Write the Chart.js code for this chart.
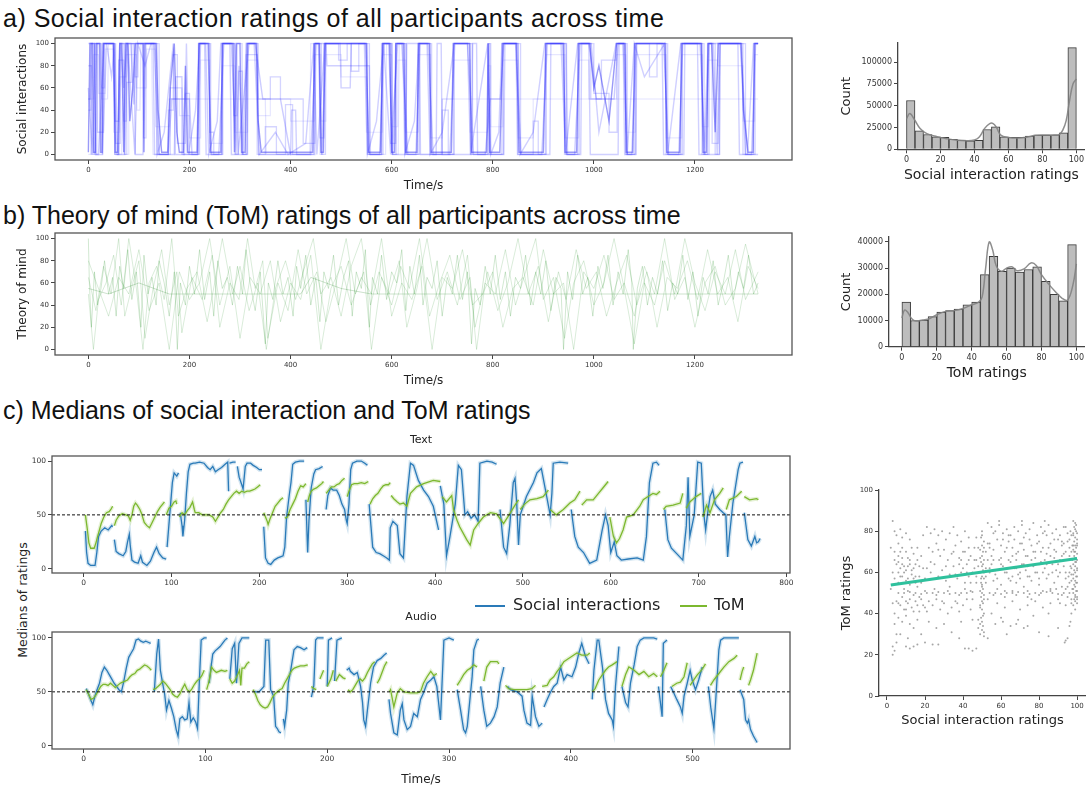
<!DOCTYPE html>
<html><head><meta charset="utf-8">
<script src="https://cdn.jsdelivr.net/npm/chart.js@4/dist/chart.umd.min.js"></script>
<style>
body{margin:0;background:#fff;width:1086px;height:789px;overflow:hidden;position:relative;font-family:"DejaVu Sans",sans-serif;}
.ttl{position:absolute;font-family:"Liberation Sans",Arial,sans-serif;font-size:25px;line-height:28px;color:#111;white-space:nowrap;}
.lg{position:absolute;font-size:16px;line-height:20px;color:#222;white-space:nowrap;}
.ln{position:absolute;height:0;border-top:2px solid;}
.yl{position:absolute;font-size:12.5px;color:#222;white-space:nowrap;transform:translate(-50%,-50%) rotate(-90deg);}
</style></head><body>
<div class="ttl" style="left:3px;top:4px;letter-spacing:0.5px">a) Social interaction ratings of all participants across time</div>
<div class="ttl" style="left:3px;top:201px">b) Theory of mind (ToM) ratings of all participants across time</div>
<div class="ttl" style="left:3px;top:396px">c) Medians of social interaction and ToM ratings</div>
<div class="yl" style="left:22px;top:600px">Medians of ratings</div>
<script>
// ---------------- DATA ----------------
// Panel a: individual social-interaction rating traces (time s, rating) flat pairs
const socialTrace1 = [0,2,3,100,8,100,10,2,14,2,16,100,22,100,24,2,27,2,29,100,50,100,53,2,58,2,62,100,66,100,70,2,74,100,78,100,82,30,88,60,93,100,108,100,110,2,112,100,134,100,138,40,145,2,157,2,162,60,170,100,175,20,180,2,188,2,192,80,196,2,215,2,219,100,238,100,241,2,262,2,265,100,286,100,289,2,293,100,300,100,303,2,310,2,314,100,332,100,336,30,342,2,444,2,447,100,457,100,460,2,465,2,468,100,550,100,554,2,578,2,582,100,596,100,600,2,606,2,608,100,624,100,628,2,650,2,653,100,675,100,678,2,718,2,722,100,754,100,758,2,788,2,791,100,794,2,814,2,820,100,847,100,852,2,900,2,905,100,940,100,943,2,966,2,970,100,992,100,1000,60,1010,80,1030,30,1045,100,1061,100,1064,2,1077,2,1081,100,1141,100,1144,2,1170,2,1174,100,1213,100,1216,2,1223,2,1226,100,1233,100,1240,20,1246,100,1292,100,1296,40,1305,2,1315,2,1318,100,1325,100];
const socialTrace2 = [0,50,4,50,6,100,12,100,15,0,20,0,31,100,48,100,55,0,60,0,64,100,70,60,76,100,84,100,90,45,96,100,130,100,140,0,158,0,165,50,200,50,205,0,216,0,222,100,236,100,244,0,258,0,268,100,283,100,292,0,298,80,306,0,312,100,330,100,345,50,380,50,400,0,440,0,450,100,455,100,462,0,470,100,548,100,556,0,576,0,585,100,594,100,602,0,610,100,620,100,632,0,648,0,656,100,672,100,682,0,715,0,725,100,750,100,762,0,785,0,795,50,815,50,822,100,845,100,856,0,897,0,908,100,938,100,946,0,962,0,973,100,990,100,1005,50,1040,50,1048,100,1058,100,1066,0,1075,0,1084,100,1138,100,1148,0,1168,0,1176,100,1210,100,1220,0,1228,100,1290,100,1300,0,1312,0,1320,100,1325,100];
const socialTrace4 = [0,0,5,0,6,100,10,100,11,0,17,0,18,100,24,100,26,50,38,50,40,100,50,100,52,0,66,0,68,100,71,100,72,0,79,0,80,100,94,100,96,40,102,40,104,100,125,100,128,0,158,0,160,50,350,50,352,0,438,0,440,100,456,100,458,0,464,0,466,100,550,100,552,0,588,0,590,100,598,100,600,0,613,0,615,100,628,100,630,0,698,0,700,50,1325,50];
const socialTrace5 = [0,60,8,0,14,100,24,100,28,0,36,100,46,70,52,100,58,0,72,0,78,100,92,0,98,100,112,80,124,100,132,100,136,0,150,20,168,100,172,0,190,0,194,100,198,0,212,40,220,100,232,100,238,0,255,30,262,100,290,100,296,0,318,100,328,100,338,0,370,20,395,0,430,10,446,100,452,0,468,100,498,100,500,60,518,60,520,100,546,100,552,0,570,30,584,100,598,0,612,100,622,100,626,0,645,30,654,100,670,100,676,0,700,20,724,100,750,100,756,0,790,100,796,0,812,20,818,100,850,100,854,0,880,20,903,100,935,100,944,0,968,100,995,100,1010,20,1044,100,1062,100,1066,0,1080,100,1100,70,1140,100,1146,0,1172,100,1212,100,1218,0,1226,100,1236,100,1244,0,1250,100,1290,100,1304,0,1316,100,1325,100];
const socialTrace6 = [0,100,12,100,14,0,28,0,30,100,50,100,53,30,60,30,62,100,90,100,93,0,108,0,110,100,128,100,131,0,170,0,173,70,185,70,188,0,216,0,218,100,230,100,233,0,264,0,266,100,280,100,283,0,314,0,316,100,334,100,337,0,400,0,402,40,410,40,412,0,448,0,450,100,470,100,472,80,556,80,558,0,580,0,582,100,600,100,602,0,628,0,630,100,655,100,657,0,688,0,690,100,698,100,700,0,758,0,760,100,768,100,770,0,822,0,824,100,846,100,849,0,913,0,915,100,945,100,948,0,974,0,976,100,990,100,993,0,1048,0,1050,100,1058,100,1061,0,1083,0,1085,100,1135,100,1138,0,1178,0,1180,100,1205,100,1208,0,1248,0,1250,100,1285,100,1288,0,1325,0];
// step-held traces: rating v held from time t until the next change
const socialStep1 = [0,80,6,0,12,100,26,60,32,100,52,0,60,85,70,30,75,100,92,70,98,100,136,0,158,40,168,90,176,10,192,55,200,0,218,100,240,20,248,0,264,100,288,35,294,100,304,0,312,90,334,0,350,25,372,0,390,45,404,0,446,100,458,15,466,100,520,75,535,100,552,0,580,100,598,10,608,100,626,0,652,100,676,0,700,40,712,0,722,100,756,0,790,100,794,0,818,100,850,0,880,30,890,0,904,100,942,0,968,100,994,50,1015,85,1044,100,1063,0,1080,100,1110,70,1125,100,1143,0,1172,100,1214,0,1225,100,1234,10,1246,100,1295,0,1316,100,1325,100];
const socialStep2 = [0,40,5,100,18,20,30,100,54,10,63,100,71,0,76,65,86,100,109,15,114,100,140,0,162,60,185,0,220,100,242,0,266,100,290,0,297,75,305,0,315,100,336,50,360,70,380,50,425,10,448,100,461,0,469,100,495,85,512,100,556,0,583,100,601,0,609,100,629,0,655,100,679,0,724,100,760,0,792,100,796,0,821,100,855,0,906,100,946,0,971,100,1000,55,1030,20,1046,100,1066,0,1083,100,1146,0,1175,100,1218,0,1228,100,1240,0,1249,100,1300,0,1319,100,1325,100];
const socialStep3 = [0,50,10,90,20,55,33,95,50,20,62,70,75,90,95,60,115,95,133,25,160,50,180,35,200,15,222,85,240,10,265,80,290,20,315,85,335,35,360,50,400,30,447,90,460,30,470,90,500,70,550,20,582,90,600,25,612,85,628,20,653,90,677,15,700,50,722,85,755,20,790,80,796,25,820,85,850,15,880,50,905,90,943,15,970,85,990,50,1045,90,1063,20,1082,90,1143,15,1174,90,1215,25,1226,85,1245,80,1295,30,1318,90,1325,90];

// Panel b: individual ToM rating traces
const tomTrace1 = [0,100,2,60,6,20,12,70,18,40,25,55,32,80,40,50,48,65,55,30,62,75,70,55,78,90,86,45,95,70,104,20,110,85,118,50,126,65,134,40,140,80,150,60,160,30,170,70,176,0,182,60,192,40,200,75,210,50,220,90,230,45,240,70,248,30,256,80,265,55,275,65,285,40,295,75,305,50,312,90,320,60,330,35,340,70,350,5,356,60,365,45,375,80,385,50,395,65,405,30,412,75,420,55,430,85,440,40,450,65,458,25,466,70,475,55,485,85,495,40,505,65,515,80,522,30,530,70,540,55,548,90,556,20,562,65,572,50,580,85,590,45,600,70,610,60,620,90,628,35,636,75,645,50,655,85,662,40,670,65,680,55,690,80,700,30,710,65,720,50,730,85,740,45,750,70,758,5,765,55,775,40,785,75,795,50,805,85,815,45,825,70,835,30,845,65,855,55,865,85,875,40,885,70,895,50,905,80,915,35,925,65,935,55,940,0,948,70,958,45,968,85,978,50,988,65,998,30,1008,75,1018,55,1028,85,1038,40,1048,70,1058,50,1068,90,1075,60,1078,0,1086,55,1096,75,1106,40,1116,65,1126,50,1136,80,1146,35,1156,60,1166,50,1176,85,1186,45,1196,70,1206,30,1216,65,1226,50,1236,80,1246,40,1256,60,1266,85,1276,45,1286,70,1296,55,1306,85,1316,50,1325,60];
const tomTrace2 = [0,50,10,0,20,45,35,60,50,85,65,40,80,100,95,55,108,0,120,60,135,75,150,45,165,100,178,30,195,55,215,70,235,25,250,60,265,100,285,50,300,75,318,35,335,60,352,0,370,55,390,80,410,45,425,70,445,100,460,50,480,65,500,30,520,75,540,100,558,40,575,70,595,50,615,80,630,20,650,55,670,100,690,45,710,70,730,40,750,85,768,0,785,60,805,50,825,90,845,40,865,70,885,100,900,45,920,65,942,10,960,60,980,80,1000,40,1020,60,1040,100,1060,55,1080,5,1100,60,1120,40,1140,80,1160,50,1180,100,1200,60,1220,35,1240,70,1260,50,1280,90,1300,45,1325,70];
const tomTrace3 = [0,65,15,35,30,75,45,50,60,100,72,30,88,60,100,80,112,10,128,55,145,90,160,40,175,70,185,15,205,65,225,45,245,85,260,20,280,60,298,45,315,100,330,55,345,80,355,10,375,60,395,35,415,90,432,50,452,70,470,25,490,60,510,100,528,50,545,70,560,0,580,65,600,40,618,75,635,55,655,100,675,30,695,60,715,85,735,45,755,65,765,20,790,70,810,35,830,60,850,100,870,50,890,75,910,25,930,70,945,45,965,90,985,55,1005,70,1025,30,1045,60,1065,85,1085,40,1105,70,1125,20,1145,65,1165,55,1185,80,1205,45,1225,90,1245,50,1265,65,1285,25,1305,75,1325,55];
const tomTrace4 = [0,80,20,55,40,30,60,65,80,50,100,90,120,35,140,60,160,0,180,70,200,45,220,60,240,100,260,40,280,75,300,10,320,65,340,50,360,80,380,25,400,60,420,45,440,85,460,0,480,55,500,75,520,40,540,65,560,50,580,100,600,30,620,60,640,45,660,75,680,0,700,65,720,55,740,90,760,40,780,50,800,70,820,20,840,55,860,65,880,40,900,90,920,50,940,60,960,0,980,70,1000,55,1020,85,1040,45,1060,60,1080,30,1100,75,1120,50,1140,100,1160,45,1180,65,1200,20,1220,60,1240,75,1260,40,1280,55,1300,95,1325,50];
const tomTrace5 = [0,55,40,50,100,60,160,50,420,50,440,65,500,55,560,50,760,50,1325,50];

// Panel a/b histograms (bins of width 5 on 0..100)
const histBinCenters = [2.5,7.5,12.5,17.5,22.5,27.5,32.5,37.5,42.5,47.5,52.5,57.5,62.5,67.5,72.5,77.5,82.5,87.5,92.5,97.5];
const socialHistCounts = [56000,21200,17000,14400,13600,11400,10600,9800,10200,22700,25800,14400,13600,13600,15200,16300,16300,16700,18900,116700];
const socialKde = [0,35200,2,41000,5,33000,8,24000,12,18000,18,14400,23,12500,29,10600,35,9800,40,10600,43,14400,46,24000,49,29500,51,29500,53,25000,55.5,16300,60,13600,66,12900,72,14400,76,16000,82,16300,87,16300,90,17000,92,22000,94,33000,96,56000,98,75000,100,80700];
const tomHistCounts = [17000,10000,10200,11500,13200,13800,14400,16000,17000,27500,34500,28800,30000,28500,29500,30500,25000,20000,17500,39000];
const tomKde = [0,11000,1.5,14000,3.5,13000,5.5,10800,8,9800,12,10200,16,10800,20,12200,25,13500,30,13800,35,14600,40,16000,44,17000,46,19000,48,30000,50,40000,52,37000,54,31000,57,28800,60,30000,63,30500,66,29000,70,29700,74,32000,77,31000,80,27500,84,24000,88,21000,92,18400,95,17800,98,23500,100,31600];

// Panel c: medians (segments of [time, value] pairs)
const textSocial = [
 [2,35,3.4,15,5,5,8,3,13,3,15,15,17,30,20,35,24,38,28,36,32,40,33,39],
 [35,27,37,16,40,14,45,12,48,16,50,25,52,32,53,22,55,8,58,6,62,5,65,12,67,6,72,3,76,7,80,15,83,20,86,14,90,10,94,9],
 [95,20,97,40,99,60,101,80,103,89,106,86,108,89],
 [110,52,112,40,113,30,115,45,117,70,119,90,121,97,125,98,127,98,132,99,137,98,141,94,144,92,147,95,150,90,153,92,157,94,161,97,164,99,165,72],
 [166,98,170,99,173,99],
 [175,95,177,85,180,78,181.5,74,184,95,186,98,190,98,193,96,197,94,200,92,203,92],
 [205,39,207,10,210,5,213,4,217,8,221,10,224,11,227,12,229,20,231,48,234,68,236,80,238,97,241,99,246,100,251,100],
 [253,64,255,15,256.5,45,259,75,262,88,264,92,268,93,272,95],
 [276,55,278,68,281,75,284,73,288,73,291,68,294,60,297,55,299,45,300,42,302,60,304,92,306,98,311,100,316,100,320,98,323,96],
 [325,60,327,40,329,20,333,15,337,14,341,12,345,10,348,8,349,38,352,44,357,40,360,14,364,10,368,67,372,98,375.5,96,381,82,387,73,392.5,67,398,58,404,36],
 [406,77,410,60,413,12,417,30,423,60,426.5,96,430,92,434,50,437,53,441,47,445,50,449,44,451,98,459,100,465,99,470,97],
 [474,55,478,20,481.5,14,485,40,489,80,491,84,493,60,495,22,497,50,504,67,512,80,516,89,521,93,525,76,531,50,533,70,534.5,98,542,99,551.5,98],
 [555,55,559,30,563,20,569,15,576,5,584,8,590,35,594,50,597,40,600,15,604,25,607,12,612,8,620,9,630,10,637,8,640.6,30,644,80,648,98,652,99,655,96],
 [661.5,55,665,27,669,19,675,14,682,8,686,40,688,85,690,30,695,50,699,99,703,98,706,50,708,36,710,50,713,67,716,73,719,60,724,55,728,52,731,50,733,11,735,30,739,61,745,92,747,98,750.5,99],
 [752,52,756,27,760,21,764,30,766,24,768,25,770,28]
];
const textToM = [
 [2,50,4,38,6,24,8,19,12,19,14,24,17,33,20,42,23,48,26,52,29,53,31,55,33,58],
 [35,40,37,45,40,49,44,51,48,50,51,49,53,45,55,50,57,58,59,61,61,59,64,55,66,51,69,43,72,40,75,38,78,43,81,48,84,53,87,57,90,60,92,62],
 [94,50,97,56,100,58,103,62,105,63,106,60],
 [109,48,112,52,115,50,118,54,121,57,124,62,126,55,127,52,131,52,135,50,139,50,143,50,147,48,150,44,153,48,156,52,159,55,162,60,165,64,168,67,171,70,174,72,177,70,180,72,183,71,186,72,189,72,192,73,195,74,198,76,201,78],
 [205,52,207,48,209,44,210,41,212,46,215,52,218,58,221,61,224,64,227,66],
 [229,47,232,48,235,55,238,60,241,65,244,72,247,77,250,76,253,79],
 [255,62,257,68,259,72,262,74,265,75,268,77,271,79,273,81],
 [276,70,279,73,282,76,285,76,288,78,291,79,294,82,297,84],
 [300,67,302,72,305,78,308,79,312,79,316,80,320,79,324,81],
 [326,60,329,65,332,68,335,70,338,74,341,77,344,78,347,78,349,80],
 [350,68,353,65,357,62,360,60,364,61,368,58,372,70,379,76,387,79,398,82,406,81],
 [408,67,413,62,419,68,421,55,425,45,428,39,436,27,440,22,444,36,449,42,455,48,463,52,470,51,478,42,485,51,491,59,495,64],
 [497,55,502,60,508,64,516,65,523,67,529,73],
 [531,55,538,50,546,55,553.5,61,559,64,565,72],
 [567,59,572.5,64,580,64,586,70,591,75,597,81],
 [599,48,603,30,606.5,24,610,28,614,36,618,48,625.5,50,633,58,637,64,642.5,67,648,70,652,69,656,72],
 [660,55,663,58,671,59,679,61,682,70],
 [686,56,690,62,697,67,703,70],
 [705,48,709,59,713,52,718,64,724,70,728,75],
 [731.5,55,735,64,743,67,749,72],
 [752,67,758,64,766,65,768,64]
];
const audioSocial = [
 [2,53,4,48,6,42,7.5,38,9,45,11,52,13,58,15,68,17,73,19,70,21,66,23,62,25,58,27,55,29,52,31,50,33,60,35,72,37,82,39,86,41,90,43,98,45,99,47,97,49,96,51,97,53,96,55,95],
 [58,50,60,85,61.5,99,63,70,64.5,60,66.5,48,68,33,70,42,72,35,74,27,76,15,77.5,9,79,25,81,27,83,24,85,25,86.5,40,88,22,90,26,92,22,93.5,16,95,60,96.5,98,99,100,101,100],
 [103,58,104.5,72,106,85,108,88,110,90,112,92,114,95,116,98,118,100],
 [120,62,122,90,124,95,125.5,58,127.5,95,130,100,136,100],
 [140,50,144,50,148,55,149.5,98,152,98,153.5,52,156,46,157.6,18,159,16,160.4,13,162,12],
 [164,25,165,18,166.7,33,168,58,170,70,172.7,89,175.4,92,178,91,181,89,183.6,91],
 [187,45,189,56,190.5,98,192,100,197,100],
 [200,55,201,98,204,100],
 [206,60,208,98,212,100],
 [216,70,218,72,219,69,222,66,224.7,68,227.4,55,229,40,230,24,231.5,18,233,33,235.6,58,238,73,241,79,244,81,246.6,84,248.8,86],
 [250.7,43,252,30,254.7,12,257.5,10,260,33,261.6,39,263,24,265.7,15,268.4,18,271,30,274,27,276.6,43,279,49,282,58,285,61,287.6,64,290,55,293,24,295.8,98,300,100,304,98],
 [306.7,52,309.5,33,312,15,313.6,12,315,18,317.7,49,319,64,320.4,89,323,98,324.5,99],
 [326,55,328.6,33,331,18,334,21,337,27,339.6,36,342,58,345,73],
 [348,55,350.5,52,356,50,360,46,361.5,33,364,21,367,19,368.3,46,371,27,373.8,18,376.5,21],
 [378,36,380.6,43,383,49,386,55,388.8,58,391.6,73,394.3,61,397,66,401,64,404,73,406.6,86,409,95,412,83,415,76],
 [417.6,43,419,70,421.7,98,423,98,426,73,428.5,43,431,30,434,24,435,18,436.7,55,439.5,92],
 [442,55,445,40,447,36,449,58,452,75,454.5,92,457,98,460,100,468,100,471,99],
 [472,55,475,27,476,95,479,98],
 [482,55,484.6,49,487,43,490,36,491.5,30,493,46,495.6,58,498,70,499.7,61,502.4,52,505,61,508,73],
 [513,55,515,35,517.5,16,519,42,521.6,89,523,98,525.7,100,532,100,538,100],
 [539,52,542,43,543.5,24,545,21,546,24,547.6,15,550,9,553,3]
];
const audioToM = [
 [2,52,4,48,6,43,8,44,10,47,12,51,14,55,16,57,18,57,20,56,22,58,24,56,26,54,28,56,30,58,32,59,34,60,36,61,38,64,40,66,42,67,44,70,46,71,48,73,50,75,52,74,54,72,55.5,70],
 [57,52,59,53,61,55,63,57,65,60,67,58,69,55,71,52,73,48,75,46,77,45,79,48,81,53,83,57,85,52,87,50,89,53,91,57,93,60,95,62,97,65,99,70],
 [101,52,103,60,105,73,107,70,109,68,111,69,113,70,116,69,118,70],
 [120,62,122,58,124,60,126,65,128,70,129,56,130,72,132,72,134,76,136,78],
 [139,52,141,48,143,42,145,38,147,36,149,35,151,36,153,40,155,45,157,48,159,50,161,52,163,53,165,58,167,62,169,66,171,70,173,72,175,73,178,74,181,74,184,75],
 [187,55,189,53,191,52],
 [194,62,197,70],
 [200,55,203,62,205,70],
 [207,60,210,66,213,63,215,62],
 [217,52,219,50,221,52,223,56,225,60,227,62,229,60,231,63,233,68,235,72,237,76,239,78],
 [241,58,243,62,245,68,247,74,249,78],
 [251,50,252,52,254.7,36,257.5,49,260,53,263,50,268.4,49,274,49,276.6,50,279,58,282,64,285,69,287.6,65,290,67],
 [306.7,56,309.5,61,312,66,315,70,317.7,72,320.4,75,323,73],
 [328.6,60,331,73,334,78,339.6,78,341,76],
 [346.4,56,349,53,353,52,358.7,52,364,52,368,53,371,56],
 [376.5,55,380.6,56,383,61,386,64,388.8,69,391.6,73,394.3,78,397,80,401,83,405,86,409,84,413.5,84,415.6,86],
 [417.6,50,420,53,423,61,426,66,428.5,70,431,73,434,75,438,78],
 [442,55,445,66,447.7,73,452,70,456,66,460,69,464,64,468,67,471,64],
 [473.7,64,476,69,479,77],
 [483,55,487,58,490,59,493,64,495.6,77],
 [498,56,501,61,504,66,506.5,69,509,73,510.6,76],
 [514.7,56,517.5,61,521.6,67,525.7,73,529.8,78,534,81,536.6,84],
 [539,61,540.7,69,542,73],
 [546,56,547.6,61,550,70,553,86]
];
const medianReference = 50;

// Scatter: social interaction ratings (x) vs ToM ratings (y)
const scatterPoints = [
 99,84,98.5,82,99.5,80,98,79,99,77,100,76,98.5,75,99,73,99.5,72,98,71,99,70,100,69,98.5,68,99,67,97.5,66,99.5,65,98,64,99,63,100,62,98.5,61,99,60,97,59,99.5,58,98,57,99,56,100,55,98.5,54,99,53,97.5,52,99.5,51,98,50,99,49,100,48,98.5,47,99,46,97,45,96,50,96.5,63,97,70,96,76,95,48,95.5,58,97,40,96.5,36,96,34,94,27,93.5,26,95,28,98,44,99,42,100,47,100,51,100,58,100,66,100,73,100,79,99.5,83,98,85,
 50,80,49.5,77,51,75,50,73,49,71,50.5,70,50,68,51,66,49.5,65,50,63,50.5,61,49,60,50,58,51,57,49.5,55,50,54,50.5,52,49,51,50,50,51,49,49.5,48,50,46,50.5,45,49,44,50,42,51,40,49.5,38,50,36,50.5,34,48,33,51,31,49,30,48,37,52,62,52,70,48,72,52,55,
 6,50,9,50,12,50.5,15,50,18,49.5,21,50,24,50,27,50.5,30,50,33,49.5,36,50,39,50,42,50,45,50.5,54,50,57,50,60,49.5,63,50,66,50,69,50.5,72,50,75,49.5,78,50,81,50,84,50.5,87,50,90,49.5,93,50,11,51,14,49,20,51,26,49,32,51,38,49,44,51,56,49,62,51,68,49,74,51,80,49,86,51,92,49,
 3,85,4,80,5,78,7,81,6,74,8,77,10,79,12,76,4,70,6,68,8,72,10,70,12,66,14,69,16,72,18,68,5,64,7,62,9,60,11,63,13,61,15,64,17,58,19,62,4,57,6,55,8,58,10,56,12,54,14,57,16,53,18,55,5,46,7,44,9,42,11,45,13,43,15,46,17,41,19,44,4,40,6,38,8,36,10,39,12,35,14,33,16,37,18,30,3,24,4,22,3,20,5,26,7,30,10,24,12,23,14,24,16,25,11,28,
 21,82,23,79,25,81,27,78,29,80,31,76,33,79,35,82,37,78,39,75,41,80,43,77,22,72,24,70,26,74,28,68,30,71,32,66,34,69,36,73,38,67,40,70,42,64,44,68,21,62,23,60,25,64,27,58,29,61,31,56,33,59,35,63,37,57,39,60,41,55,43,58,22,46,24,44,26,47,28,42,30,45,32,40,34,43,36,46,38,41,40,44,42,47,44,42,22,36,26,33,30,35,34,31,38,28,27,25,24,25,20,26,41,23,43,23,45,22,47,23,39,36,45,37,
 53,84,55,82,57,80,59,83,61,79,63,81,65,78,67,82,69,80,71,83,73,79,75,81,77,84,79,78,81,82,83,80,85,83,87,79,89,81,91,78,93,82,54,74,56,71,58,76,60,73,62,70,64,75,66,72,68,69,70,74,72,71,74,68,76,73,78,70,80,75,82,72,84,69,86,74,88,71,90,76,92,73,94,70,55,64,57,61,59,66,61,63,63,60,65,65,67,62,69,59,71,64,73,61,75,58,77,63,79,60,81,65,83,62,85,59,87,64,89,61,91,66,93,63,56,56,60,54,64,57,68,55,72,53,76,56,80,54,84,57,88,55,92,53,58,45,62,43,66,46,70,42,74,44,78,46,82,43,86,45,90,47,94,44,57,35,61,36,65,34,68,35,72,33,74,34,80,31,85,29,90,33,53,28,55,40,60,38,
 99,81,98,78,100,74,98.5,70,99,65,100,61,98,59,99.5,55,98,52,99,48,100,45,97,62,96,55,97.5,73,96.5,80,95,66,94,60,95,75,93,69,94,52,
 50,78,51,72,49,67,50.5,64,51,60,49.5,57,50,53,51,47,49,43,50.5,39,49,35,50,32,51,29,47,66,53,47,47,55,53,74,
 2,52,3,60,4,66,2,72,3,45,4,35,5,30,6,60,7,70,8,64,9,52,10,46,11,67,13,72,15,58,17,48,19,78,20,57,21,41,23,65,25,52,27,71,29,46,31,63,33,53,35,70,37,45,39,66,41,52,43,72,45,47,46,62,47,77,44,55,
 54,62,56,79,58,57,60,67,62,48,64,78,66,58,68,66,70,57,72,77,74,63,76,47,78,67,80,57,82,79,84,64,86,52,88,67,90,58,92,75,94,57,91,45,85,40,77,39,69,37,63,30,58,52,66,51,74,48,82,51,89,52,71,85,59,85,83,85,
 45,60,46,66,47,58,48,63,52,58,53,66,54,60,55,68,42,60,43,66,41,70,40,62,38,64,36,59,46,72,54,72,56,66,57,59,6,65,7,58,8,67,9,63,10,61,11,57,12,64,13,59,14,62,15,55,16,66,17,63,6,45,8,48,10,42,12,47,14,41,16,44,18,47,20,43,
 97,78,98,73,96,68,97,56,96,60,95,53,97,47,96,72,95,79,94,82,93,74,92,68,91,60,90,64,89,70,88,76,87,60,86,68,85,72,84,78,83,66,82,60,81,70,80,64,79,74,78,60,77,70,76,66,75,76,74,58,73,68,72,64,71,74,70,60,69,70,68,62,67,76,66,68,65,56,64,66,63,72,62,60,61,76,60,64
];
const regressionLine = [2,53.9,100,66.8];

// Axis ticks
const timeTicksAB = [0,200,400,600,800,1000,1200];
const ratingTicks = [0,20,40,60,80,100];
const textTimeTicks = [0,100,200,300,400,500,600,700,800];
const audioTimeTicks = [0,100,200,300,400,500];
const medianTicks = [0,50,100];
const socialCountTicks = [0,25000,50000,75000,100000];
const tomCountTicks = [0,10000,20000,30000,40000];

// ---------------- HELPERS ----------------
Chart.defaults.font.family = 'DejaVu Sans';
Chart.defaults.color = '#333';
Chart.defaults.animation = false;
Chart.defaults.events = [];
Chart.defaults.plugins.legend.display = false;
Chart.defaults.plugins.tooltip.enabled = false;

function pairs(flat){ const o=[]; for(let i=0;i<flat.length;i+=2) o.push({x:flat[i], y:flat[i+1]}); return o; }
function segs(list){ const o=[]; list.forEach((s,k)=>{ if(k) o.push({x:s[0], y:null}); o.push(...pairs(s)); }); return o; }

const boxPlugin = {id:'box', afterDatasetsDraw(chart, args, opts){
  if(!opts || !opts.on) return;
  const a=chart.chartArea, ctx=chart.ctx; ctx.save(); ctx.strokeStyle='#555'; ctx.lineWidth=1.3;
  ctx.strokeRect(a.left, a.top, a.right-a.left, a.bottom-a.top); ctx.restore(); }};
Chart.register(boxPlugin);

function axis(o){
  const s = { type:'linear', min:o.min, max:o.max, offset:false,
    afterBuildTicks: sc => { sc.ticks = o.ticks.map(v=>({value:v})); },
    grid:{display:true, drawOnChartArea:false, drawTicks:true, tickLength:4, color:'#444', lineWidth:1, offset:false},
    border:{display:!!o.border, color:'#444', width:1.3},
    ticks:{font:{size:o.fs}, color:'#333', padding:2, maxRotation:0, autoSkip:false, callback:v=>String(v)},
    title: o.title ? {display:true, text:o.title, font:{size:o.tfs}, color:'#222', padding:o.tpad} : {display:false}
  };
  if(o.w!==undefined) s.afterFit = sc => { sc.width = o.w; };
  if(o.h!==undefined) s.afterFit = sc => { sc.height = o.h; };
  return s;
}
function mk(pos, cfg){
  const c=document.createElement('canvas'); c.width=pos.w; c.height=pos.h;
  c.style.cssText=`position:absolute;left:${pos.l}px;top:${pos.t}px;width:${pos.w}px;height:${pos.h}px`;
  document.body.appendChild(c);
  cfg.options.responsive=false; cfg.options.maintainAspectRatio=false;
  cfg.options.layout = Object.assign({autoPadding:false}, cfg.options.layout||{});
  return new Chart(c, cfg);
}
function traceDs(flat, color, w, stepped){ return {data:pairs(flat), borderColor:color, borderWidth:w, pointRadius:0, tension:0, fill:false, stepped:!!stepped}; }

// ---------------- PANEL a (lines) ----------------
mk({l:0,t:30,w:800,h:163}, {type:'line', data:{datasets:[
    traceDs(socialStep3,'rgba(60,60,255,0.13)',1.2,true),
    traceDs(socialTrace4,'rgba(60,60,255,0.14)',1.2),
    traceDs(socialStep2,'rgba(40,40,255,0.2)',1.3,true),
    traceDs(socialStep1,'rgba(40,40,255,0.2)',1.3,true),
    traceDs(socialTrace2,'rgba(40,40,255,0.24)',1.4),
    traceDs(socialTrace5,'rgba(40,40,255,0.22)',1.4),
    traceDs(socialTrace6,'rgba(40,40,255,0.22)',1.4),
    traceDs(socialTrace1,'rgba(30,30,240,0.45)',1.4)
  ]},
  options:{layout:{padding:{top:8,right:8,left:0,bottom:0}},
    plugins:{box:{on:true}},
    scales:{
      x:axis({min:-66,max:1392,ticks:timeTicksAB,fs:7,h:33,title:'Time/s',tfs:12,tpad:{top:0,bottom:0}}),
      y:axis({min:-5,max:105,ticks:ratingTicks,fs:7,w:55,title:'Social interactions',tfs:12,tpad:{top:16,bottom:0}})
    }}});

// ---------------- PANEL b (lines) ----------------
mk({l:0,t:225,w:800,h:163}, {type:'line', data:{datasets:[
    traceDs(tomTrace1,'rgba(0,128,0,0.18)',1),
    traceDs(tomTrace2,'rgba(0,128,0,0.15)',1),
    traceDs(tomTrace3,'rgba(0,128,0,0.15)',1),
    traceDs(tomTrace4,'rgba(0,128,0,0.15)',1),
    traceDs(tomTrace5,'rgba(0,110,0,0.2)',1)
  ]},
  options:{layout:{padding:{top:8,right:8,left:0,bottom:0}},
    plugins:{box:{on:true}},
    scales:{
      x:axis({min:-66,max:1392,ticks:timeTicksAB,fs:7,h:33,title:'Time/s',tfs:12,tpad:{top:0,bottom:0}}),
      y:axis({min:-5,max:105,ticks:ratingTicks,fs:7,w:55,title:'Theory of mind',tfs:12,tpad:{top:16,bottom:0}})
    }}});

// ---------------- Histograms ----------------
function histCfg(counts, kde, xr, yr, yticks, xtitle, pad, yw, xh, xtpad){
  return {type:'bar', data:{datasets:[
      {type:'line', data:pairs(kde), borderColor:'rgba(130,130,130,0.9)', borderWidth:1.5, pointRadius:0, tension:0.4, order:1},
      {type:'bar', data:histBinCenters.map((c,i)=>({x:c,y:counts[i]})), backgroundColor:'#bdbdbd', borderColor:'#3a3a3a', borderWidth:1, barPercentage:1, categoryPercentage:1, order:2}
    ]},
    options:{layout:{padding:pad},
      scales:{
        x:axis({min:xr[0],max:xr[1],ticks:ratingTicks,fs:8,h:xh,border:true,title:xtitle,tfs:14,tpad:{top:0,bottom:xtpad}}),
        y:axis({min:yr[0],max:yr[1],ticks:yticks,fs:8,w:yw,border:true,title:'Count',tfs:13,tpad:{top:4,bottom:0}})
      }}};
}
mk({l:835,t:35,w:251,h:155}, histCfg(socialHistCounts, socialKde, [-5,105], [0,122000], socialCountTicks, 'Social interaction ratings', {top:8,right:0,left:0,bottom:0}, 63, 40.7, 6.6));
mk({l:835,t:229,w:251,h:156}, histCfg(tomHistCounts, tomKde, [-7.4,104.6], [0,41900], tomCountTicks, 'ToM ratings', {top:8,right:0,left:0,bottom:0}, 54, 38.3, 3.6));

// ---------------- PANEL c: Text ----------------
function medDatasets(soc, tom, xr){
  return [
    {data:segs(soc), borderColor:'rgba(31,119,180,0.2)', borderWidth:4, pointRadius:0, tension:0, spanGaps:false, order:5},
    {data:segs(tom), borderColor:'rgba(124,184,47,0.2)', borderWidth:4, pointRadius:0, tension:0, spanGaps:false, order:4},
    {data:segs(soc), borderColor:'#2a7ab8', borderWidth:1.3, pointRadius:0, tension:0, spanGaps:false, order:3},
    {data:segs(tom), borderColor:'#7cb82f', borderWidth:1.3, pointRadius:0, tension:0, spanGaps:false, order:2},
    {data:[{x:xr[0],y:medianReference},{x:xr[1],y:medianReference}], borderColor:'#111', borderWidth:1, borderDash:[3,2], pointRadius:0, order:1}
  ];
}
const textRange=[-36,804], audioRange=[-26,580];
mk({l:0,t:430,w:800,h:163}, {type:'line', data:{datasets:medDatasets(textSocial,textToM,textRange)},
  options:{layout:{padding:{top:0,right:10,left:0,bottom:0}},
    plugins:{box:{on:true}, title:{display:true, text:'Text', font:{size:11,weight:'normal'}, color:'#222', padding:{top:4,bottom:8.8}, fullSize:false}},
    scales:{
      x:axis({min:textRange[0],max:textRange[1],ticks:textTimeTicks,fs:7.5,h:20}),
      y:axis({min:-4,max:104.7,ticks:medianTicks,fs:7.5,w:52})
    }}});
// ---------------- PANEL c: Audio ----------------
mk({l:0,t:604,w:800,h:185}, {type:'line', data:{datasets:medDatasets(audioSocial,audioToM,audioRange)},
  options:{layout:{padding:{top:0,right:10,left:0,bottom:0}},
    plugins:{box:{on:true}, title:{display:true, text:'Audio', font:{size:11,weight:'normal'}, color:'#222', padding:{top:6.4,bottom:8.4}, fullSize:false}},
    scales:{
      x:axis({min:audioRange[0],max:audioRange[1],ticks:audioTimeTicks,fs:7.5,h:40,title:'Time/s',tfs:12,tpad:{top:0,bottom:1.8}}),
      y:axis({min:-3,max:105.5,ticks:medianTicks,fs:7.5,w:52})
    }}});

// ---------------- Scatter ----------------
mk({l:830,t:482,w:256,h:253}, {type:'scatter', data:{datasets:[
    {type:'line', data:pairs(regressionLine), borderColor:'#2fc19d', borderWidth:3, pointRadius:0, order:1},
    {data:pairs(scatterPoints), backgroundColor:'rgba(150,150,150,0.85)', borderWidth:0, pointRadius:1, order:2}
  ]},
  options:{layout:{padding:{top:8,right:0,left:0,bottom:0}},
    scales:{
      x:axis({min:-4.2,max:104.7,ticks:ratingTicks,fs:7,h:39,border:true,title:'Social interaction ratings',tfs:13,tpad:{top:0,bottom:6.2}}),
      y:axis({min:0,max:100,ticks:ratingTicks,fs:7,w:49,border:true,title:'ToM ratings',tfs:13,tpad:{top:9.2,bottom:0}})
    }}});
</script>
<div class="ln" style="left:475px;top:605px;width:30px;border-color:#2a7ab8"></div>
<div class="lg" style="left:513px;top:595px">Social interactions</div>
<div class="ln" style="left:680px;top:605px;width:27px;border-color:#7cb82f"></div>
<div class="lg" style="left:714px;top:595px">ToM</div>
</body></html>
